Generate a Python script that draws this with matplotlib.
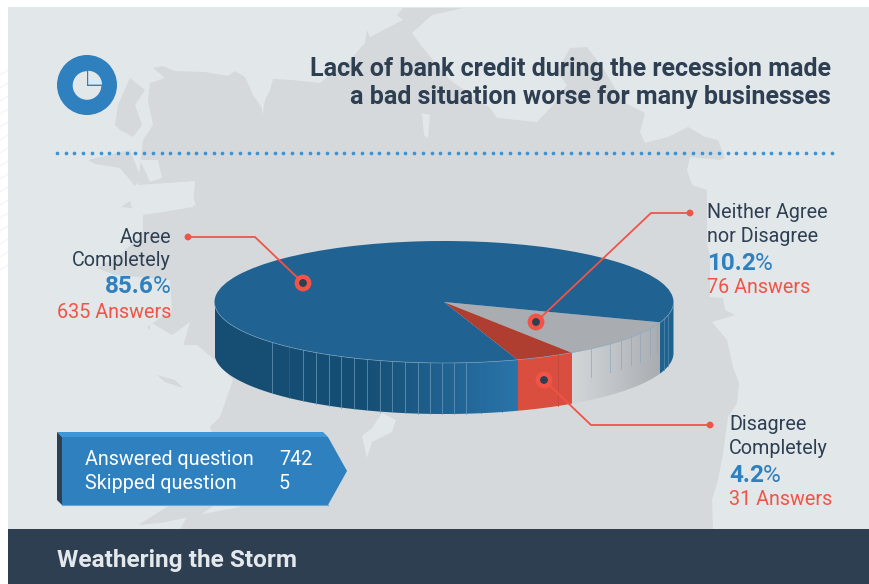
import numpy as np
import matplotlib
matplotlib.use('Agg')
import matplotlib.pyplot as plt
from matplotlib.colors import LinearSegmentedColormap, to_rgba
from matplotlib.patches import Polygon, Rectangle, Circle, Wedge

plt.rcParams['font.family'] = ['Roboto', 'DejaVu Sans']

# survey results
categories = ['Neither Agree\nnor Disagree', 'Disagree\nCompletely', 'Agree\nCompletely']
percents = [10.2, 4.2, 85.6]
answers = [76, 31, 635]
answered = 742
skipped = 5
title_lines = ['Lack of bank credit during the recession made',
               'a bad situation worse for many businesses']
footer = 'Weathering the Storm'

NAVY = '#2e3f52'
BLUE = '#2e80bf'
CORAL = '#f15446'
PANEL = '#e2e7ea'
LAND = '#d5d9dc'

W, H = 870, 584
fig = plt.figure(figsize=(W / 100, H / 100), dpi=100, facecolor='white')

# background layer in pixel coordinates
bg = fig.add_axes([0, 0, 1, 1], zorder=0)
bg.set_xlim(0, W)
bg.set_ylim(H, 0)
bg.axis('off')

for y in np.arange(70, 270, 13):
    bg.plot([0, 8], [y + 5, y], color='#eef3f8', lw=0.7)
bg.add_patch(Rectangle((8, 7), W - 8, 522, fc=PANEL, ec='none'))

# map silhouette
land = [(153, 68), (163, 66), (175, 71), (205, 72), (228, 76), (235, 71), (245, 77), (250, 88),
        (253, 95), (262, 108), (262, 116), (265, 100), (270, 90), (273, 79), (292, 80), (320, 83),
        (333, 72), (350, 60), (365, 43), (367, 30), (370, 37), (397, 23), (403, 20), (397, 15),
        (403, 8), (463, 8), (432, 15), (412, 33), (423, 48), (450, 80), (490, 108), (497, 118),
        (537, 122), (553, 105), (567, 85), (557, 72), (570, 48), (587, 47), (603, 68), (623, 102),
        (645, 113), (640, 132), (645, 143), (668, 137), (688, 127), (705, 137), (718, 140),
        (725, 158), (720, 160), (690, 157), (687, 170), (692, 185), (707, 190), (707, 243),
        (710, 257), (710, 297), (723, 298), (725, 310), (735, 315), (712, 322), (727, 340),
        (733, 367), (739, 383), (737, 403), (728, 417), (723, 453), (718, 480), (712, 500),
        (713, 529), (180, 529), (187, 517), (240, 507), (210, 427), (220, 417), (233, 380),
        (215, 360), (197, 345), (165, 345), (147, 327), (172, 310), (170, 280), (115, 275),
        (97, 268), (120, 255), (143, 233), (143, 215), (163, 212), (193, 207), (195, 181),
        (138, 185), (140, 168), (143, 140), (153, 125), (148, 100), (150, 83), (165, 78)]
bays = [[(140, 190), (195, 181), (192, 195), (196, 205), (170, 210), (150, 200)],
        [(362, 436), (372, 428), (382, 413), (396, 420), (392, 432), (372, 442), (367, 458)],
        [(422, 113), (430, 115), (428, 138), (424, 135)],
        [(150, 322), (172, 335), (190, 322), (182, 350), (165, 358), (150, 345)],
        [(716, 326), (725, 318), (728, 321), (720, 328)],
        [(140, 160), (158, 160), (162, 178), (150, 182)]]
islands = [[(115, 125), (118, 105), (130, 78), (145, 90), (135, 105), (142, 125), (133, 137), (120, 130)],
           [(88, 160), (130, 150), (141, 178), (135, 186), (120, 168), (95, 164)],
           [(121, 207), (130, 201), (132, 208)],
           [(157, 375), (175, 380), (183, 388), (165, 382)],
           [(138, 525), (170, 505), (215, 505), (200, 515), (160, 523)]]
bg.add_patch(Polygon(land, fc=LAND, ec='none'))
for shape in islands:
    bg.add_patch(Polygon(shape, fc=LAND, ec='none'))
for shape in bays:
    bg.add_patch(Polygon(shape, fc=PANEL, ec='none'))

# footer and dotted rule
bg.add_patch(Rectangle((8, 529), W - 8, 55, fc=NAVY, ec='none'))
dots = np.arange(57, 833, 8.71)
bg.scatter(dots, np.full(dots.size, 153), s=7, c='#3a93d4', linewidths=0)

# chart icon
bg.add_patch(Circle((87, 85), 30, fc=BLUE, ec='none'))
bg.add_patch(Circle((87, 85.5), 14.3, fc=PANEL, ec='none'))
bg.add_patch(Rectangle((87, 70), 15, 16, fc=BLUE, ec='none'))
bg.add_patch(Wedge((88.2, 84.6), 13.8, -90, 0, fc=PANEL, ec='none'))

# 3d pie: elliptical top drawn through pie(), wall below it
cx, cy, rx, ry, depth = 444, 302, 229.5, 61, 51
pie_ax = fig.add_axes([(cx - rx) / W, 1 - (cy + ry) / H, 2 * rx / W, 2 * ry / H], zorder=1)
start = -19.5
pie_ax.pie(percents, colors=['#a9adb1', '#b03e30', '#206291'], startangle=start,
           counterclock=False, radius=1, wedgeprops={'linewidth': 0})
wall_h = depth / ry

ang_gray = start - percents[0] * 3.6
ang_red = ang_gray - percents[1] * 3.6
x_red = np.cos(np.radians(ang_red))
x_gray = np.cos(np.radians(ang_gray))
x_back = np.cos(np.radians(start))
blue_map = LinearSegmentedColormap.from_list('b', ['#154d73', '#164f75', '#2a74aa'])
gray_map = LinearSegmentedColormap.from_list('g', ['#d3d6d9', '#bfc3c7', '#a9adb1'])

# wall colours run left to right, one column per half pixel
xs = np.linspace(-1, 1, 918)
cols = np.zeros((1, xs.size, 4))
for i, x in enumerate(xs):
    if x < x_red:
        cols[0, i] = blue_map((x + 1) / (x_red + 1))
    elif x < x_gray:
        cols[0, i] = to_rgba('#d94e3f')
    elif x < x_back:
        cols[0, i] = gray_map((x - x_gray) / (x_back - x_gray))
    else:
        cols[0, i] = to_rgba('#1f6290')
im = pie_ax.imshow(cols, extent=(-1, 1, -1 - wall_h, 0), aspect='auto', interpolation='nearest', zorder=0)
t = np.radians(np.arange(-180, 0.5, 0.5))
outline = np.column_stack([np.r_[np.cos(t), np.cos(t)[::-1]],
                           np.r_[np.sin(t), (np.sin(t) - wall_h)[::-1]]])
im.set_clip_box(fig.bbox)
im.set_clip_path(Polygon(outline, transform=pie_ax.transData))

pie_ax.set_aspect('auto')
pie_ax.set_xlim(-1, 1)
pie_ax.set_ylim(-1, 1)


def seams(px_list, color, frac=1.0, alpha=0.7):
    for px in px_list:
        x = (px - cx) / rx
        y = -np.sqrt(1 - x * x)
        pie_ax.plot([x, x], [y, y - wall_h * frac], color=color, lw=0.7, alpha=alpha, clip_on=False)


seams([272, 303, 316, 329, 341, 354, 367, 380, 392, 405, 418, 430, 442, 454, 466], '#6f9cbc')
seams([289, 481, 502], '#2f6f9c', alpha=0.5)
seams([558], '#c4473a', alpha=0.8)
seams([591, 610, 621, 631, 640, 650, 657], '#8fa6b8', frac=0.55)
seams([664, 668], '#5a8cae')

# front rim highlight
pie_ax.plot(np.cos(t), np.sin(t), color='#7fa5c0', lw=0.5, alpha=0.8, clip_on=False)

# callouts and text layer
fg = fig.add_axes([0, 0, 1, 1], zorder=2)
fg.set_xlim(0, W)
fg.set_ylim(H, 0)
fg.axis('off')
fg.patch.set_alpha(0)

leaders = [[(690, 213), (651, 213), (536, 322)],
           [(710, 425), (591, 425), (544, 380)],
           [(188, 237), (255, 237), (303, 283)]]
for pts in leaders:
    px, py = zip(*pts)
    fg.plot(px, py, color=CORAL, lw=1.3, solid_joinstyle='miter', zorder=1)
    fg.add_patch(Circle(pts[0], 3.4, fc=CORAL, ec='none', zorder=2))
    fg.add_patch(Circle(pts[-1], 8.4, fc=CORAL, ec='none', zorder=2))
    fg.add_patch(Circle(pts[-1], 3.9, fc=NAVY, ec='none', zorder=3))

fg.text(831, 76, title_lines[0], ha='right', va='baseline', color=NAVY, fontsize=18, fontweight='bold')
fg.text(831, 104, title_lines[1], ha='right', va='baseline', color=NAVY, fontsize=18, fontweight='bold')

renderer = fig.canvas.get_renderer()
BODY = 14.2
PCT = 17.5


def callout(x, baselines, name, pct, count, align):
    lines = name.split('\n')
    for line, y in zip(lines, baselines):
        fg.text(x, y, line, ha=align, va='baseline', color=NAVY, fontsize=BODY)
    num = '%.1f' % pct
    if align == 'left':
        n = fg.text(x, baselines[2], num, ha='left', va='baseline', color=BLUE, fontsize=PCT, fontweight='bold')
        x1 = n.get_window_extent(renderer).x1
        fg.text(x1 - 1, baselines[2], '%', ha='left', va='baseline', color=BLUE, fontsize=PCT)
    else:
        p = fg.text(x, baselines[2], '%', ha='right', va='baseline', color=BLUE, fontsize=PCT)
        x0 = p.get_window_extent(renderer).x0
        fg.text(x0 + 1, baselines[2], num, ha='right', va='baseline', color=BLUE, fontsize=PCT, fontweight='bold')
    fg.text(x, baselines[3], '%d Answers' % count, ha=align, va='baseline', color=CORAL, fontsize=BODY)


callout(707, [218, 242, 270, 293], categories[0], percents[0], answers[0], 'left')
callout(729, [430, 454, 482, 505], categories[1], percents[1], answers[1], 'left')
callout(171, [243, 266, 293, 318], categories[2], percents[2], answers[2], 'right')

# answered / skipped tag
fg.add_patch(Polygon([(57, 432), (323, 432), (328, 437), (62, 437)], fc='#3d96d6', ec='none'))
fg.add_patch(Polygon([(57, 432), (62, 437), (62, 505), (57, 500)], fc=NAVY, ec='none'))
fg.add_patch(Polygon([(62, 437), (328, 437), (347, 471), (328, 505), (62, 505)], fc=BLUE, ec='none'))
fg.plot([62, 328], [505, 505], color='#6aa5d6', lw=0.8)
fg.text(85, 465, 'Answered question', color='white', fontsize=BODY, va='baseline')
fg.text(85, 489, 'Skipped question', color='white', fontsize=BODY, va='baseline')
fg.text(279, 465, str(answered), color='white', fontsize=BODY, va='baseline')
fg.text(279, 489, str(skipped), color='white', fontsize=BODY, va='baseline')

fg.text(57, 567, footer, color='#e3e8ec', fontsize=17.6, fontweight='bold', va='baseline')

fig.savefig('out.png', dpi=100, facecolor='white')
